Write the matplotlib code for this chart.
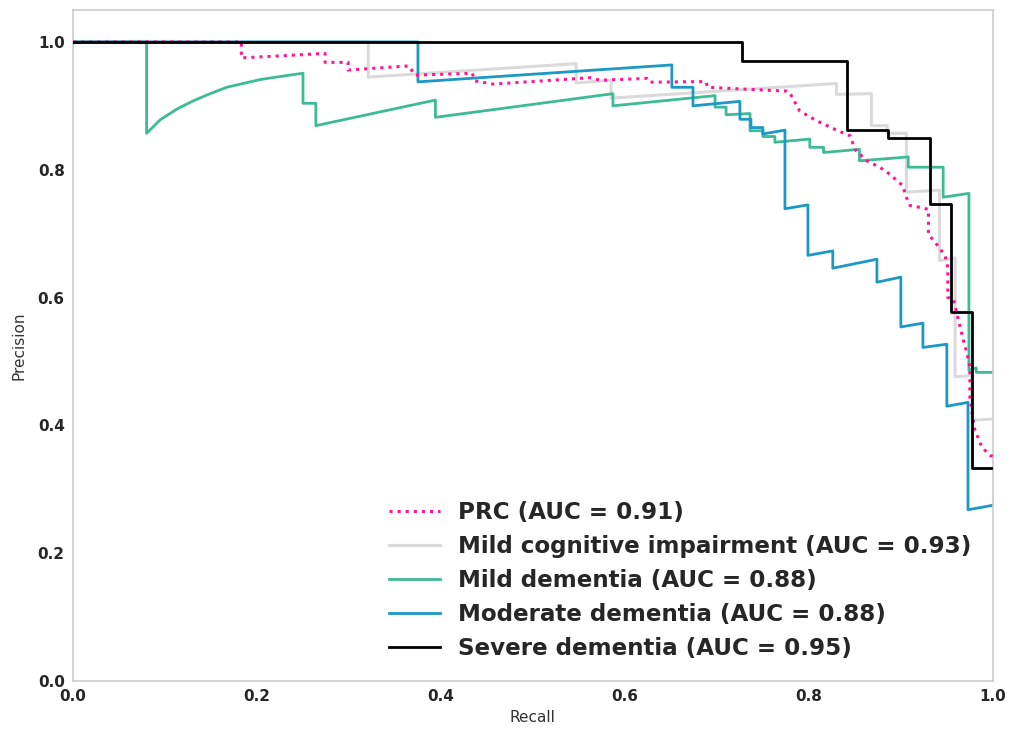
import numpy as np
import matplotlib
matplotlib.use("Agg")
from matplotlib import pyplot as plt

# curve vertices (recall, precision)
prc_recall = [0, 0.183, 0.183, 0.274, 0.274, 0.299, 0.299, 0.365, 0.372, 0.434, 0.437, 0.457,
              0.562, 0.573, 0.624, 0.627, 0.688, 0.690, 0.776, 0.779, 0.790, 0.808, 0.830,
              0.845, 0.850, 0.863, 0.877, 0.888, 0.902, 0.906, 0.910, 0.921, 0.930, 0.930,
              0.937, 0.948, 0.951, 0.951, 0.957, 0.968, 0.972, 0.975, 0.975, 0.980, 0.988,
              0.997, 1.0]
prc_precision = [1.0, 1.0, 0.975, 0.982, 0.968, 0.968, 0.956, 0.9625, 0.948, 0.951, 0.939, 0.934,
                 0.944, 0.940, 0.943, 0.937, 0.938, 0.929, 0.923, 0.921, 0.892, 0.877, 0.862,
                 0.853, 0.832, 0.814, 0.804, 0.793, 0.775, 0.757, 0.744, 0.741, 0.738, 0.699,
                 0.687, 0.666, 0.647, 0.600, 0.598, 0.533, 0.512, 0.491, 0.444, 0.395, 0.366,
                 0.353, 0.352]

mci_recall = [0, 0.321, 0.321, 0.547, 0.547, 0.585, 0.585, 0.830, 0.830, 0.868, 0.868, 0.885,
              0.885, 0.906, 0.906, 0.942, 0.942, 0.959, 0.959, 0.977, 0.977, 1.0]
mci_precision = [1.0, 1.0, 0.945, 0.966, 0.936, 0.940, 0.912, 0.935, 0.918, 0.919, 0.869, 0.869,
                 0.857, 0.857, 0.765, 0.768, 0.658, 0.662, 0.476, 0.478, 0.408, 0.410]

mild_recall = [0, 0.080, 0.080, 0.0946, 0.113, 0.131, 0.149, 0.167, 0.185, 0.203, 0.221, 0.250,
               0.250, 0.264, 0.264, 0.394, 0.394, 0.587, 0.587, 0.698, 0.698, 0.710, 0.710,
               0.736, 0.736, 0.750, 0.750, 0.763, 0.763, 0.801, 0.801, 0.816, 0.816, 0.855,
               0.855, 0.908, 0.908, 0.946, 0.946, 0.974, 0.974, 0.982, 0.982, 1.0]
mild_precision = [1.0, 1.0, 0.857, 0.878, 0.895, 0.908, 0.919, 0.929, 0.935, 0.941, 0.945, 0.951,
                  0.904, 0.904, 0.869, 0.909, 0.882, 0.919, 0.900, 0.916, 0.898, 0.898, 0.886,
                  0.888, 0.861, 0.861, 0.852, 0.852, 0.843, 0.848, 0.835, 0.835, 0.827, 0.832,
                  0.814, 0.820, 0.804, 0.804, 0.757, 0.763, 0.486, 0.490, 0.483, 0.483]

moderate_recall = [0, 0.375, 0.375, 0.651, 0.651, 0.674, 0.674, 0.725, 0.725, 0.737, 0.737,
                   0.750, 0.750, 0.774, 0.774, 0.799, 0.799, 0.826, 0.826, 0.874, 0.874,
                   0.900, 0.900, 0.924, 0.924, 0.950, 0.950, 0.973, 0.973, 1.0]
moderate_precision = [1.0, 1.0, 0.9375, 0.964, 0.929, 0.929, 0.900, 0.907, 0.879, 0.879, 0.866,
                      0.866, 0.856, 0.862, 0.739, 0.745, 0.666, 0.673, 0.646, 0.660, 0.624,
                      0.632, 0.554, 0.560, 0.522, 0.527, 0.430, 0.436, 0.268, 0.275]

severe_recall = [0, 0.727, 0.727, 0.841, 0.841, 0.886, 0.886, 0.932, 0.932, 0.954, 0.954,
                 0.977, 0.977, 1.0]
severe_precision = [1.0, 1.0, 0.970, 0.970, 0.862, 0.862, 0.849, 0.849, 0.746, 0.746, 0.577,
                    0.577, 0.333, 0.333]

labels = ['PRC (AUC = 0.91)',
          'Mild cognitive impairment (AUC = 0.93)',
          'Mild dementia (AUC = 0.88)',
          'Moderate dementia (AUC = 0.88)',
          'Severe dementia (AUC = 0.95)']

plt.rcParams['font.family'] = ['DejaVu Sans']
fig = plt.figure(figsize=(10.1, 7.33), dpi=100, facecolor='white')
ax = fig.add_axes([0.0723, 0.0709, 0.9107, 0.9155])

ax.plot(prc_recall, prc_precision, color='#ff1493', linestyle=':', linewidth=2.2, label=labels[0], zorder=3)
ax.plot(mci_recall, mci_precision, color='#dadada', linewidth=2.2, label=labels[1], zorder=2)
ax.plot(mild_recall, mild_precision, color='#3dba96', linewidth=2, label=labels[2], zorder=2)
ax.plot(moderate_recall, moderate_precision, color='#1c98c4', linewidth=2, label=labels[3], zorder=2)
ax.plot(severe_recall, severe_precision, color='black', linewidth=2, label=labels[4], zorder=4)

ax.set_xlim(0, 1)
ax.set_ylim(0, 1.05)
ax.set_xticks(np.arange(0, 1.01, 0.2))
ax.set_yticks(np.arange(0, 1.01, 0.2))
for lab in ax.get_xticklabels() + ax.get_yticklabels():
    lab.set_fontweight('bold')
    lab.set_fontsize(11)
    lab.set_color('#262626')
ax.tick_params(length=0, pad=6)
ax.set_xlabel('Recall', fontsize=11, color='#333333', labelpad=4)
ax.set_ylabel('Precision', fontsize=11, color='#333333', labelpad=8)
for s in ax.spines.values():
    s.set_color('#cccccc')
    s.set_linewidth(1.2)

# legend sized to match the reference
leg = ax.legend(loc='lower right', bbox_to_anchor=(0.9995, 0.0), frameon=False,
                prop={'weight': 'bold', 'size': 16.6}, handlelength=2.2,
                labelspacing=0.48, handletextpad=0.8)
for t in leg.get_texts():
    t.set_color('#262626')

fig.savefig('out.png', dpi=100, facecolor='white')
